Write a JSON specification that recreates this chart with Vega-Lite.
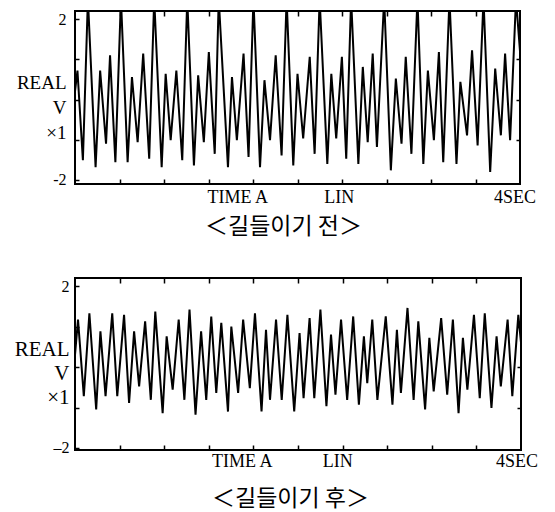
{
  "$schema": "https://vega.github.io/schema/vega-lite/v6.json",
  "background": "white",
  "padding": {"left": 13, "top": 9, "right": 5, "bottom": 0},
  "datasets": {
    "before": [
      {"t":0,"v":0.2},{"t":0.022,"v":0.72},{"t":0.071,"v":-1.51},{"t":0.116,"v":2.5},{"t":0.185,"v":-1.68},{"t":0.226,"v":0.72},{"t":0.279,"v":-1.1},{"t":0.315,"v":1.1},{"t":0.363,"v":-1.56},{"t":0.413,"v":2.5},
      {"t":0.473,"v":-1.56},{"t":0.512,"v":0.56},{"t":0.563,"v":-1.06},{"t":0.613,"v":1.14},{"t":0.667,"v":-1.47},{"t":0.712,"v":2.5},{"t":0.779,"v":-1.68},{"t":0.815,"v":0.64},{"t":0.86,"v":-1.01},{"t":0.911,"v":0.72},
      {"t":0.964,"v":-1.51},{"t":1.009,"v":2.5},{"t":1.069,"v":-1.64},{"t":1.107,"v":0.6},{"t":1.158,"v":-1.06},{"t":1.203,"v":1.18},{"t":1.256,"v":-1.35},{"t":1.292,"v":2.5},{"t":1.375,"v":-1.68},{"t":1.411,"v":0.56},
      {"t":1.455,"v":-1.01},{"t":1.515,"v":1.14},{"t":1.56,"v":-1.43},{"t":1.604,"v":2.5},{"t":1.663,"v":-1.68},{"t":1.703,"v":0.48},{"t":1.753,"v":-1.01},{"t":1.804,"v":1.1},{"t":1.857,"v":-1.39},{"t":1.902,"v":2.5},
      {"t":1.962,"v":-1.64},{"t":2.0,"v":0.64},{"t":2.051,"v":-0.97},{"t":2.11,"v":1.06},{"t":2.154,"v":-1.35},{"t":2.199,"v":2.5},{"t":2.268,"v":-1.6},{"t":2.304,"v":0.64},{"t":2.348,"v":-0.97},{"t":2.399,"v":1.06},
      {"t":2.438,"v":-1.47},{"t":2.482,"v":2.5},{"t":2.547,"v":-1.6},{"t":2.587,"v":0.81},{"t":2.631,"v":-1.06},{"t":2.676,"v":1.14},{"t":2.714,"v":-1.18},{"t":2.779,"v":2.5},{"t":2.839,"v":-1.76},{"t":2.884,"v":0.52},
      {"t":2.935,"v":-1.1},{"t":2.973,"v":1.06},{"t":3.024,"v":-1.35},{"t":3.078,"v":2.5},{"t":3.131,"v":-1.6},{"t":3.172,"v":0.72},{"t":3.226,"v":-1.01},{"t":3.271,"v":1.18},{"t":3.31,"v":-1.56},{"t":3.366,"v":2.5},
      {"t":3.429,"v":-1.6},{"t":3.464,"v":0.44},{"t":3.524,"v":-0.89},{"t":3.569,"v":1.22},{"t":3.619,"v":-1.14},{"t":3.672,"v":2.5},{"t":3.732,"v":-1.8},{"t":3.777,"v":0.77},{"t":3.828,"v":-0.89},{"t":3.866,"v":1.14},
      {"t":3.911,"v":-1.01},{"t":3.964,"v":2.5},{"t":4.0,"v":1.2}
    ],
    "after": [
      {"t":0,"v":0.3},{"t":0.027,"v":1.17},{"t":0.079,"v":-0.72},{"t":0.129,"v":1.33},{"t":0.19,"v":-1.05},{"t":0.228,"v":0.88},{"t":0.274,"v":-0.72},{"t":0.334,"v":1.33},{"t":0.379,"v":-0.72},{"t":0.44,"v":1.29},
      {"t":0.485,"v":-0.89},{"t":0.53,"v":0.88},{"t":0.575,"v":-0.48},{"t":0.629,"v":1.13},{"t":0.68,"v":-0.81},{"t":0.72,"v":1.37},{"t":0.786,"v":-1.14},{"t":0.822,"v":0.76},{"t":0.876,"v":-0.56},{"t":0.93,"v":1.17},
      {"t":0.981,"v":-0.81},{"t":1.027,"v":1.42},{"t":1.081,"v":-1.18},{"t":1.131,"v":0.88},{"t":1.177,"v":-0.81},{"t":1.222,"v":1.25},{"t":1.267,"v":-0.64},{"t":1.312,"v":1.09},{"t":1.372,"v":-1.1},{"t":1.402,"v":1.0},
      {"t":1.463,"v":-0.64},{"t":1.508,"v":1.17},{"t":1.568,"v":-0.52},{"t":1.614,"v":1.33},{"t":1.673,"v":-1.1},{"t":1.713,"v":0.92},{"t":1.749,"v":-0.81},{"t":1.803,"v":1.17},{"t":1.854,"v":-0.81},{"t":1.905,"v":1.29},
      {"t":1.966,"v":-1.1},{"t":2.014,"v":0.84},{"t":2.05,"v":-0.77},{"t":2.104,"v":1.21},{"t":2.146,"v":-0.77},{"t":2.201,"v":1.42},{"t":2.255,"v":-0.97},{"t":2.296,"v":0.8},{"t":2.336,"v":-0.68},{"t":2.386,"v":1.17},
      {"t":2.441,"v":-0.81},{"t":2.495,"v":1.25},{"t":2.546,"v":-0.93},{"t":2.591,"v":0.76},{"t":2.621,"v":-0.4},{"t":2.666,"v":1.17},{"t":2.712,"v":-0.81},{"t":2.787,"v":1.25},{"t":2.847,"v":-0.93},{"t":2.887,"v":0.92},
      {"t":2.923,"v":-0.64},{"t":2.982,"v":1.46},{"t":3.037,"v":-0.81},{"t":3.079,"v":1.13},{"t":3.14,"v":-1.05},{"t":3.178,"v":0.72},{"t":3.217,"v":-0.6},{"t":3.284,"v":1.21},{"t":3.338,"v":-0.68},{"t":3.389,"v":1.17},
      {"t":3.44,"v":-1.14},{"t":3.479,"v":0.72},{"t":3.519,"v":-0.56},{"t":3.578,"v":1.29},{"t":3.63,"v":-0.77},{"t":3.675,"v":1.33},{"t":3.735,"v":-1.01},{"t":3.781,"v":0.76},{"t":3.819,"v":-0.48},{"t":3.88,"v":1.17},
      {"t":3.922,"v":-0.72},{"t":3.976,"v":1.29},{"t":4.0,"v":0.6}
    ],
    "labelsBefore": [
      {"t":1.464,"label":"TIME A"},{"t":2.375,"label":"LIN"},{"t":3.955,"label":"4SEC"}
    ],
    "labelsAfter": [
      {"t":1.5,"label":"TIME A"},{"t":2.357,"label":"LIN"},{"t":3.965,"label":"4SEC"}
    ]
  },
  "columns": 1,
  "spacing": 36,
  "concat": [
    {
      "width": 445,
      "height": 173,
      "layer": [
        {
          "data": {"name": "before"},
          "mark": {"type": "line", "color": "black", "strokeWidth": 2, "clip": true},
          "encoding": {
            "x": {"field": "t", "type": "quantitative", "scale": {"domain": [0, 4], "nice": false},
              "axis": {"orient": "bottom", "values": [0.4,0.8,1.2,1.6,2.0,2.4,2.8,3.2,3.6], "tickSize": -5, "labels": false,
                "title": "＜길들이기 전＞", "titleFont": "Noto Sans CJK KR", "titleFontSize": 23, "titleFontWeight": "normal",
                "titleBaseline": "top", "titlePadding": 31, "titleX": 208}},
            "y": {"field": "v", "type": "quantitative", "scale": {"domain": [-2.1, 2.2], "nice": false, "zero": false},
              "axis": {"orient": "left", "values": [-2,-1,0,1,2], "tickSize": -4,
                "labelExpr": "datum.value == 2 ? '2' : datum.value == -2 ? '-2' : ''",
                "labelFontSize": 16, "labelPadding": 13,
                "title": ["REAL", "V", "×1"], "titleAngle": 0, "titleAlign": "right", "titleBaseline": "middle",
                "titleX": -9, "titleY": 71, "titleFontSize": 19, "titleLineHeight": 25}}
          }
        },
        {
          "data": {"name": "labelsBefore"},
          "mark": {"type": "text", "font": "Liberation Serif", "fontSize": 18, "baseline": "middle", "dy": 14, "color": "black"},
          "encoding": {
            "x": {"field": "t", "type": "quantitative",
              "axis": {"orient": "top", "values": [0.4,0.8,1.2,1.6,2.0,2.4,2.8,3.2,3.6], "tickSize": -5, "labels": false, "title": null}},
            "y": {"datum": -2.1,
              "axis": {"orient": "right", "values": [-1,0,1], "tickSize": -4, "labels": false, "title": null}},
            "text": {"field": "label"}
          }
        }
      ],
      "resolve": {"axis": {"x": "independent", "y": "independent"}}
    },
    {
      "width": 446,
      "height": 172,
      "layer": [
        {
          "data": {"name": "after"},
          "mark": {"type": "line", "color": "black", "strokeWidth": 2, "clip": true},
          "encoding": {
            "x": {"field": "t", "type": "quantitative", "scale": {"domain": [0, 4], "nice": false},
              "axis": {"orient": "bottom", "values": [0.4,0.8,1.2,1.6,2.0,2.4,2.8,3.2,3.6], "tickSize": -5, "labels": false,
                "title": "＜길들이기 후＞", "titleFont": "Noto Sans CJK KR", "titleFontSize": 23, "titleFontWeight": "normal",
                "titleBaseline": "top", "titlePadding": 37, "titleX": 215}},
            "y": {"field": "v", "type": "quantitative", "scale": {"domain": [-2.05, 2.2], "nice": false, "zero": false},
              "axis": {"orient": "left", "values": [-2,-1,0,1,2], "tickSize": -4,
                "labelExpr": "datum.value == 2 ? '2' : datum.value == -2 ? '–2' : ''",
                "labelFontSize": 16, "labelPadding": 10,
                "title": ["REAL", "V", "×1"], "titleAngle": 0, "titleAlign": "right", "titleBaseline": "middle",
                "titleX": -6, "titleY": 71, "titleFontSize": 21, "titleLineHeight": 24}}
          }
        },
        {
          "data": {"name": "labelsAfter"},
          "mark": {"type": "text", "font": "Liberation Serif", "fontSize": 18, "baseline": "middle", "dy": 12, "color": "black"},
          "encoding": {
            "x": {"field": "t", "type": "quantitative",
              "axis": {"orient": "top", "values": [0.4,0.8,1.2,1.6,2.0,2.4,2.8,3.2,3.6], "tickSize": -5, "labels": false, "title": null}},
            "y": {"datum": -2.05,
              "axis": {"orient": "right", "values": [-1,0,1], "tickSize": -4, "labels": false, "title": null}},
            "text": {"field": "label"}
          }
        }
      ],
      "resolve": {"axis": {"x": "independent", "y": "independent"}}
    }
  ],
  "config": {
    "view": {"stroke": "black", "strokeWidth": 2},
    "font": "Liberation Serif",
    "axis": {"domain": false, "grid": false, "tickColor": "black", "tickWidth": 1.5, "labelColor": "black", "titleColor": "black",
      "labelFont": "Liberation Serif", "titleFont": "Liberation Serif", "titleFontWeight": "normal"}
  }
}
